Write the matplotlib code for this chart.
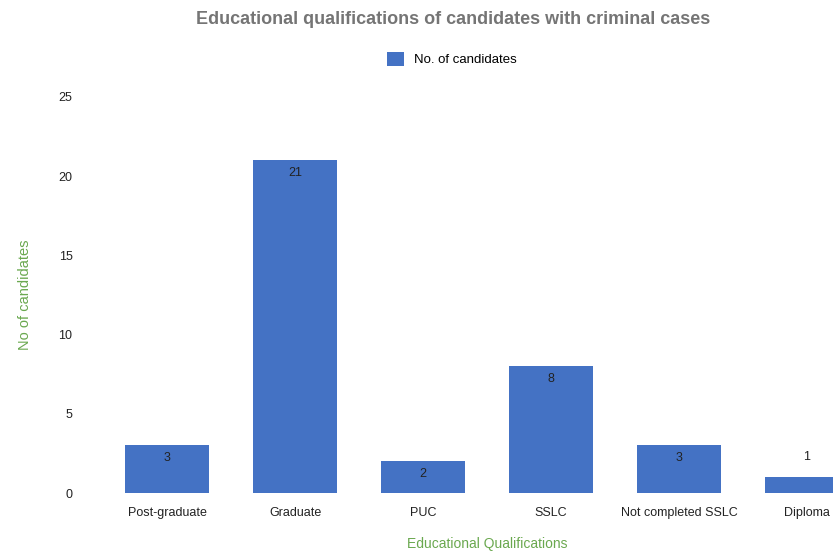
import numpy as np
import matplotlib.pyplot as plt

# ---- data ----
categories = ['Post-graduate', 'Graduate', 'PUC', 'SSLC', 'Not completed SSLC', 'Diploma']
candidates = [3, 21, 2, 8, 3, 1]
yticks = [0, 5, 10, 15, 20, 25]

bar_color = '#4472C4'
label_green = '#6AA84F'
plt.rcParams['font.family'] = ['Liberation Sans', 'DejaVu Sans']

fig = plt.figure(figsize=(8.33, 5.54), dpi=100)
# axes runs past the right edge, like the original screenshot
ax = fig.add_axes([103 / 833, 1 - 493 / 554, 768 / 833, 396 / 554])

x = np.arange(len(categories))
bars = ax.bar(x, candidates, width=0.65, color=bar_color, label='No. of candidates')

# value labels: inside the bar top, above it if the bar is too short
for b, v in zip(bars, candidates):
    cx = b.get_x() + b.get_width() / 2
    if v >= 2:
        ax.text(cx, v - 0.8, str(v), ha='center', va='center', fontsize=9, color='#222222')
    else:
        ax.text(cx, v + 1.25, str(v), ha='center', va='center', fontsize=9, color='#222222')

ax.set_xlim(-0.5, 5.5)
ax.set_ylim(0, 25)
ax.set_yticks(yticks)
ax.set_xticks(x)
ax.set_xticklabels(categories, fontsize=9, color='#222222')
ax.tick_params(axis='y', labelsize=9, colors='#222222', length=0, pad=22)
ax.tick_params(axis='x', length=0, pad=10)
for s in ax.spines.values():
    s.set_visible(False)

ax.set_xlabel('Educational Qualifications', color=label_green, fontsize=10, labelpad=13)
ax.set_ylabel('No of candidates', color=label_green, fontsize=10.5, labelpad=19)

fig.suptitle('Educational qualifications of candidates with criminal cases',
             x=453 / 833, y=1 - 19 / 554, va='center', fontsize=13, fontweight='bold', color='#757575')

fig.legend(handles=[bars], labels=['No. of candidates'], loc='center',
           bbox_to_anchor=(452 / 833, 1 - 59 / 554), frameon=False, fontsize=9.5,
           handlelength=1.3, handleheight=1.3, handletextpad=0.8)

fig.savefig('out.png', dpi=100)
